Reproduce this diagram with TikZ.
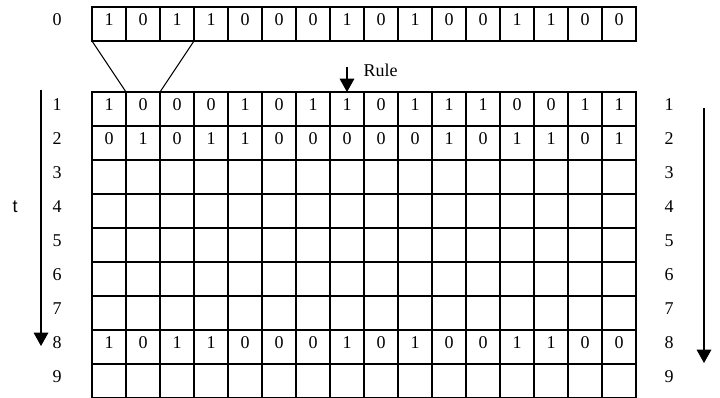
\documentclass[tikz,border=0pt]{standalone}
\usepackage{fontspec}
\setmainfont{Liberation Serif}
\newfontfamily\tfont{Liberation Sans}
\usetikzlibrary{arrows.meta, positioning}

\begin{document}
\begin{tikzpicture}[
    x=0.75pt, y=-0.75pt,        % one unit = one pixel of the layout
    >={Triangle[length=10pt, width=11pt]},
    line width=0.8pt,
    font=\fontsize{13.5}{16}\selectfont,
    cell/.style={draw, rectangle, minimum size=25.5pt, inner sep=0pt, outer sep=0pt, text depth=6pt},
    rowlab/.style={minimum size=25.5pt, inner sep=0pt, text depth=6pt},
]
\useasboundingbox (0,0) rectangle (720,398);

% -------------------------------------------------
% Initial row (t = 0)
% -------------------------------------------------
\foreach \v [count=\i] in {1,0,1,1,0,0,0,1,0,1,0,0,1,1,0,0}
  \node[cell] (r0-\i) at (75+34*\i, 24) {\v};

% -------------------------------------------------
% Evolution grid (t = 1 .. 9)
% -------------------------------------------------
\foreach \v [count=\i] in {1,0,0,0,1,0,1,1,0,1,1,1,0,0,1,1}
  \node[cell] (r1-\i) at (75+34*\i, 109) {\v};
\foreach \v [count=\i] in {0,1,0,1,1,0,0,0,0,0,1,0,1,1,0,1}
  \node[cell] (r2-\i) at (75+34*\i, 143) {\v};
\foreach \v [count=\i] in {1,0,1,1,0,0,0,1,0,1,0,0,1,1,0,0}
  \node[cell] (r8-\i) at (75+34*\i, 347) {\v};
\foreach \r in {3,...,7,9}
  \foreach \i in {1,...,16}
    \node[cell] (r\r-\i) at (75+34*\i, 75+34*\r) {};

% row numbers on both sides
\node[rowlab] (labl0) at (57,24) {0};
\foreach \r in {1,...,9} {
  \node[rowlab] (labl\r) at (57, 75+34*\r) {\r};
  \node[rowlab] (labr\r) at (669, 75+34*\r) {\r};
}

% neighbourhood funnel
\draw (r0-1.south west) -- (r1-2.north west);
\draw (r0-3.south east) -- (r1-2.north east);

% rule arrow
\coordinate (rulestart) at (347,67);
\draw[->] (rulestart) -- (r1-8.north);
\node[anchor=west, inner sep=0pt] (rule) at (363,70) {Rule};

% time arrows
\coordinate (tl0) at (41,90);
\coordinate (tl1) at (41,346);
\draw[->] (tl0) -- (tl1);
\node[rowlab, font=\fontsize{13.5}{16}\tfont] (t) at (15,211) {t};

\coordinate (tr0) at (704,108);
\coordinate (tr1) at (704,363);
\draw[->] (tr0) -- (tr1);

\end{tikzpicture}
\end{document}
